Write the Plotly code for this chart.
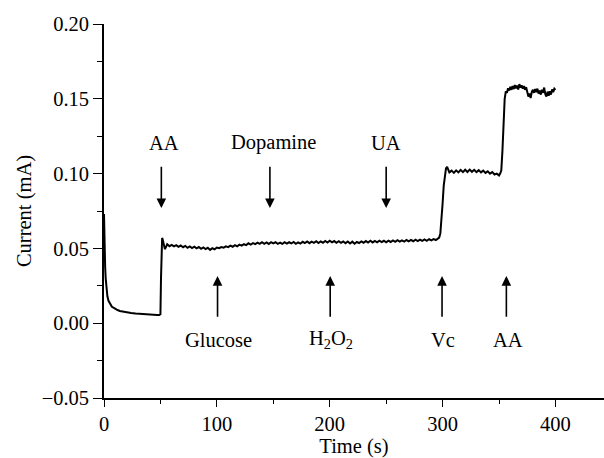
import plotly.graph_objects as go

# ---- data ----
time_s = [0, 0.3, 0.6, 1, 1.5, 2, 2.5, 3, 4, 5, 6, 7, 8, 10, 12, 14, 17, 20, 24, 28, 32, 36, 40, 44, 47, 49,
          50, 50.5, 51, 51.5, 52, 53, 54, 55,
          56, 58, 60, 62, 64, 66, 68, 70, 72, 74, 76, 78, 80, 82, 84, 86, 88, 90, 92, 94, 96, 98,
          100, 102, 104, 106, 108, 110, 112, 114, 116, 118, 120, 122, 124, 126, 128, 130, 132, 134, 136, 138,
          140, 142, 144, 146, 148, 150, 152, 154, 156, 158, 160, 162, 164, 166, 168, 170, 172, 174, 176, 178,
          180, 182, 184, 186, 188, 190, 192, 194, 196, 198, 200, 202, 204, 206, 208, 210, 212, 214, 216, 218,
          220, 222, 224, 226, 228, 230, 232, 234, 236, 238, 240, 242, 244, 246, 248, 250, 252, 254, 256, 258,
          260, 262, 264, 266, 268, 270, 272, 274, 276, 278, 280, 282, 284, 286, 288, 290, 292, 294, 296,
          297, 298, 299, 300, 301, 302, 303, 304, 305, 306, 308, 310, 312, 314, 316, 318, 320, 322, 324, 326,
          328, 330, 332, 334, 336, 338, 340, 342, 344, 346, 348, 350, 351, 352, 353, 354, 355, 356, 357, 358,
          359, 360, 361, 362, 363, 364, 365, 366, 367, 368, 369, 370, 371, 372, 373, 374, 375, 376, 377, 378,
          379, 380, 381, 382, 383, 384, 385, 386, 387, 388, 389, 390, 391, 392, 393, 394, 395, 396, 397, 398,
          399, 400]
current_mA = [0.073, 0.055, 0.040, 0.038, 0.030, 0.024, 0.020, 0.018, 0.015, 0.0135, 0.012, 0.011, 0.0105,
              0.0095, 0.0088, 0.0082, 0.0077, 0.0073, 0.0068, 0.0065, 0.0062, 0.0060, 0.0058, 0.0056, 0.0055, 0.0055,
              0.0060, 0.030, 0.050, 0.057, 0.056, 0.052, 0.0495, 0.051,
              0.0528, 0.0515, 0.0524, 0.0514, 0.0522, 0.0510, 0.0519, 0.0508, 0.0517, 0.0504, 0.0513, 0.0502,
              0.0511, 0.0500, 0.0509, 0.0497, 0.0506, 0.0495, 0.0504, 0.0490, 0.0501, 0.0494,
              0.0506, 0.0501, 0.0509, 0.0505, 0.0514, 0.0508, 0.0518, 0.0511, 0.0522, 0.0514, 0.0525, 0.0519,
              0.0528, 0.0522, 0.0534, 0.0526, 0.0535, 0.0529, 0.0539, 0.0530,
              0.0541, 0.0531, 0.0540, 0.0530, 0.0542, 0.0533, 0.0541, 0.0531, 0.0539, 0.0530, 0.0542, 0.0532,
              0.0541, 0.0533, 0.0543, 0.0531, 0.0540, 0.0532, 0.0544, 0.0535,
              0.0546, 0.0535, 0.0545, 0.0537, 0.0548, 0.0536, 0.0547, 0.0538, 0.0550, 0.0539, 0.0551, 0.0540,
              0.0549, 0.0538, 0.0548, 0.0537, 0.0547, 0.0535, 0.0546, 0.0533,
              0.0545, 0.0531, 0.0543, 0.0536, 0.0547, 0.0538, 0.0549, 0.0539, 0.0551, 0.0540, 0.0550, 0.0541,
              0.0552, 0.0542, 0.0551, 0.0541, 0.0552, 0.0543, 0.0553, 0.0544,
              0.0555, 0.0545, 0.0554, 0.0546, 0.0556, 0.0547, 0.0557, 0.0548, 0.0558, 0.0549, 0.0559, 0.0550,
              0.0560, 0.0551, 0.0561, 0.0553, 0.0562, 0.0556, 0.0565,
              0.0572, 0.0600, 0.0680, 0.0800, 0.0920, 0.0990, 0.1035, 0.1045, 0.1030, 0.1008, 0.1020, 0.1005,
              0.1022, 0.1008, 0.1025, 0.1010, 0.1026, 0.1011, 0.1027, 0.1012,
              0.1025, 0.1010, 0.1023, 0.1008, 0.1020, 0.1005, 0.1015, 0.1000, 0.1010, 0.0994, 0.1000, 0.0988,
              0.1000, 0.1020, 0.1150, 0.1350, 0.1500, 0.1550, 0.1540, 0.1570,
              0.1555, 0.1580, 0.1560, 0.1585, 0.1565, 0.1592, 0.1570, 0.1588, 0.1562, 0.1598, 0.1575, 0.1590,
              0.1568, 0.1585, 0.1560, 0.1578, 0.1540, 0.1515, 0.1535, 0.1505,
              0.1545, 0.1560, 0.1540, 0.1565, 0.1545, 0.1568, 0.1535, 0.1555, 0.1528, 0.1560, 0.1540, 0.1575,
              0.1530, 0.1515, 0.1548, 0.1520, 0.1550, 0.1528, 0.1562, 0.1545,
              0.1568, 0.1560]

# injections
top_labels = ["AA", "Dopamine", "UA"]
top_times = [50.8, 147, 250]
top_label_times = [53, 150, 250]
bottom_labels = ["Glucose", "H<sub>2</sub>O<sub>2</sub>", "Vc", "AA"]
bottom_times = [100.6, 200.4, 299.5, 356.5]
bottom_label_times = [101, 201, 300, 357.5]

x_ticks = [0, 100, 200, 300, 400]
y_ticks = [-0.05, 0.00, 0.05, 0.10, 0.15, 0.20]

FONT = "Liberation Serif"
FS = 20.5

fig = go.Figure()
fig.add_trace(go.Scatter(x=time_s, y=current_mA, mode="lines",
                         line=dict(color="black", width=2), showlegend=False))

ann = []
for lab, t, lt in zip(top_labels, top_times, top_label_times):
    ann.append(dict(x=t, y=0.0770, ax=t, ay=0.1055, xref="x", yref="y", axref="x", ayref="y",
                    text="", showarrow=True, arrowhead=2, arrowsize=1.2, arrowwidth=1.6, arrowcolor="black"))
    ann.append(dict(x=lt, y=0.1205, xref="x", yref="y", text=lab, showarrow=False,
                    font=dict(family=FONT, size=FS, color="black")))
for lab, t, lt in zip(bottom_labels, bottom_times, bottom_label_times):
    ann.append(dict(x=t, y=0.0315, ax=t, ay=0.0033, xref="x", yref="y", axref="x", ayref="y",
                    text="", showarrow=True, arrowhead=2, arrowsize=1.2, arrowwidth=1.6, arrowcolor="black"))
    ann.append(dict(x=lt, y=-0.011, xref="x", yref="y", text=lab, showarrow=False,
                    font=dict(family=FONT, size=FS, color="black")))

fig.update_layout(
    width=604, height=458,
    margin=dict(l=104, r=0, t=24, b=60),
    paper_bgcolor="white", plot_bgcolor="white",
    font=dict(family=FONT, size=FS, color="black"),
    annotations=ann,
    xaxis=dict(range=[0, 443], tickvals=x_ticks, showline=True, linecolor="black", linewidth=1.6,
               ticks="outside", ticklen=7, tickwidth=1.4, tickcolor="black", showgrid=False, zeroline=False,
               minor=dict(ticks="outside", ticklen=4, tickwidth=1.4, tickcolor="black", dtick=50, tick0=0),
               title=dict(text="Time (s)", standoff=4, font=dict(family=FONT, size=FS))),
    yaxis=dict(range=[-0.05, 0.20], tickvals=y_ticks, tickformat=".2f", showline=True, linecolor="black",
               linewidth=1.6, ticks="outside", ticklen=9, tickwidth=1.4, tickcolor="black", showgrid=False,
               zeroline=False,
               minor=dict(ticks="outside", ticklen=5, tickwidth=1.4, tickcolor="black", dtick=0.025, tick0=0),
               title=dict(text="Current (mA)", standoff=4, font=dict(family=FONT, size=FS))),
)

fig.write_html("out.html")
